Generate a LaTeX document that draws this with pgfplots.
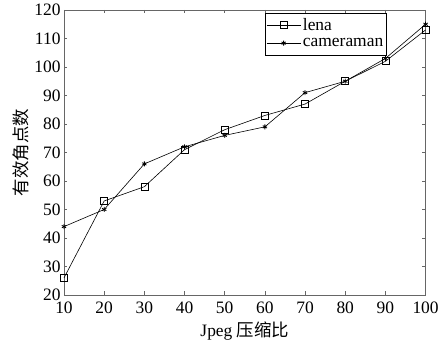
\documentclass[border=0pt]{standalone}
\usepackage{fontspec}
\setmainfont{Liberation Serif}
\newfontfamily\cjk{Noto Sans CJK SC}
\usepackage{pgfplots}
\pgfplotsset{compat=1.18}
\begin{document}
\begin{tikzpicture}
\useasboundingbox (-64bp,-48bp) rectangle (377bp,295bp);
\begin{axis}[
  at={(0,0)}, anchor=south west,
  scale only axis,
  width=361.6bp, height=285bp,
  xmin=10, xmax=100, ymin=20, ymax=120,
  xtick={10,20,...,100}, ytick={20,30,...,120},
  tick align=inside,
  major tick length=3.5bp,
  axis line style={gray!80!black, line width=0.8bp},
  every tick/.style={gray!80!black, line width=0.6bp},
  /pgf/number format/assume math mode=true,
  tick label style={font=\fontsize{17.5}{20}\selectfont},
  xticklabel style={yshift=-3bp},
  label style={font=\fontsize{17.5}{20}\selectfont},
  xlabel={Jpeg {\cjk\fontsize{17.5}{20}\selectfont 压缩比}},
  ylabel={{\cjk\fontsize{17.5}{20}\selectfont 有效角点数}},
  xlabel style={yshift=-2bp},
  ylabel style={yshift=-2bp},
  legend style={at={(0.892,0.99)}, anchor=north east, draw=black, line width=0.6bp,
    font=\fontsize{17.5}{19}\selectfont, inner xsep=1bp, inner ysep=3bp,
    /tikz/every even column/.append style={column sep=0bp},
    cells={anchor=west, minimum height=18bp}},
  legend image code/.code={\draw[#1] (0bp,0bp) -- (34bp,0bp); \draw[#1, only marks] plot coordinates {(17bp,0bp)};},
  every axis plot/.append style={black, line width=0.6bp},
]
\addplot[mark=square, mark size=3.5bp, mark options={solid, line width=0.6bp}] coordinates {
(10,26) (20,53) (30,58) (40,71) (50,78) (60,83) (70,87) (80,95) (90,102) (100,113)};
\addlegendentry{lena}
\addplot[mark=asterisk, mark size=2.5bp, mark options={solid, line width=0.8bp}] coordinates {
(10,44) (20,50) (30,66) (40,72) (50,76) (60,79) (70,91) (80,95) (90,103) (100,115)};
\addlegendentry{cameraman}
\end{axis}
\end{tikzpicture}
\end{document}
